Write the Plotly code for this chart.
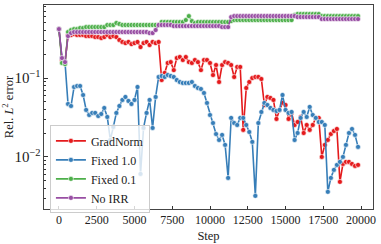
import plotly.graph_objects as go

steps = list(range(0, 20000, 200))

gradnorm = [0.417, 0.169, 0.159,
            0.350, 0.350, 0.361, 0.350, 0.350, 0.350, 0.340, 0.340, 0.340, 0.330, 0.330, 0.321, 0.330, 0.350, 0.330, 0.340,
            0.330, 0.303, 0.286, 0.277, 0.286, 0.269, 0.277, 0.286, 0.247, 0.277, 0.286, 0.262, 0.286, 0.277, 0.286,
            0.0943, 0.116, 0.155, 0.159, 0.126, 0.179, 0.1845, 0.169, 0.1845, 0.159, 0.155, 0.169, 0.159, 0.126,
            0.169, 0.169, 0.155, 0.109, 0.146, 0.089, 0.146, 0.159, 0.155, 0.146, 0.103, 0.138, 0.138,
            0.022, 0.0747, 0.089, 0.100, 0.103, 0.103, 0.0971, 0.0455, 0.0575, 0.0558, 0.0527, 0.0303, 0.0394,
            0.0483, 0.0455, 0.0303, 0.0361, 0.0254, 0.0277, 0.0321, 0.0201, 0.0254, 0.022, 0.0254, 0.0312, 0.0312,
            0.0100, 0.0142, 0.0164, 0.0195, 0.0213, 0.0226, 0.00483, 0.00815, 0.00865, 0.00865, 0.00815, 0.00769, 0.00792]

fixed_1 = [0.417, 0.179, 0.159,
           0.0469, 0.0442, 0.0769, 0.0792, 0.0792, 0.0609, 0.0394, 0.0340, 0.0361, 0.0361, 0.0330, 0.0350, 0.0417,
           0.0321, 0.0164, 0.0240, 0.0361, 0.0442, 0.0527, 0.0575, 0.0512, 0.0469, 0.0527, 0.0769, 0.00609, 0.0233,
           0.0361, 0.0527, 0.0233, 0.0575, 0.103,
           0.106, 0.103, 0.109, 0.106, 0.103, 0.0943, 0.089, 0.0865, 0.0865, 0.0865, 0.089, 0.0792, 0.0747, 0.0726,
           0.0646, 0.0483, 0.0340, 0.0269, 0.0195, 0.0164, 0.0190, 0.0142, 0.00542, 0.0312, 0.0269, 0.0254, 0.0312,
           0.0312, 0.0254, 0.0207, 0.0155, 0.00321, 0.0269, 0.0371, 0.0483, 0.0455, 0.0417, 0.0394, 0.0382, 0.0394,
           0.0609, 0.0394, 0.0361, 0.0371, 0.0164, 0.0201, 0.0312, 0.0371, 0.0321, 0.0430, 0.0340, 0.0312, 0.0277,
           0.0277, 0.0254, 0.00361, 0.00542, 0.00685, 0.00792, 0.00865, 0.0100, 0.0142, 0.0201, 0.0226, 0.0190, 0.0134]

fixed_01 = [0.417, 0.155, 0.150,
            0.382, 0.405, 0.417, 0.417, 0.430, 0.430, 0.442, 0.442, 0.442, 0.442, 0.442, 0.442, 0.442, 0.469, 0.469,
            0.469, 0.497, 0.483, 0.469, 0.469, 0.469, 0.469, 0.469, 0.469, 0.469, 0.469, 0.469, 0.469, 0.469, 0.469, 0.469,
            0.512, 0.512, 0.512, 0.512, 0.512, 0.512, 0.512, 0.512, 0.542, 0.609, 0.526, 0.497, 0.512, 0.512,
            0.512, 0.512, 0.512, 0.512, 0.512, 0.512, 0.512, 0.512, 0.512, 0.526, 0.542, 0.542, 0.542,
            0.542, 0.542, 0.542, 0.542, 0.542, 0.542, 0.542, 0.542, 0.542, 0.542, 0.542, 0.542, 0.542,
            0.542, 0.542, 0.542, 0.542, 0.627, 0.646, 0.646, 0.646, 0.646, 0.646, 0.646, 0.646, 0.646,
            0.609, 0.609, 0.609, 0.609, 0.609, 0.609, 0.609, 0.609, 0.609, 0.609, 0.609, 0.609, 0.609]

no_irr = [0.417, 0.179, 0.159,
          0.340, 0.371, 0.382, 0.382, 0.382, 0.382, 0.382, 0.382, 0.382, 0.382, 0.382, 0.382, 0.382, 0.382, 0.382,
          0.382, 0.382, 0.382, 0.382, 0.382, 0.382, 0.382, 0.382, 0.382, 0.382, 0.382, 0.382, 0.371, 0.371, 0.405, 0.469,
          0.469, 0.469, 0.469, 0.469, 0.455, 0.455, 0.455, 0.455, 0.455, 0.455, 0.455, 0.455, 0.455, 0.455,
          0.455, 0.455, 0.455, 0.455, 0.455, 0.455, 0.442, 0.442, 0.442, 0.592, 0.609, 0.609, 0.609,
          0.609, 0.609, 0.609, 0.609, 0.609, 0.609, 0.609, 0.609, 0.609, 0.609, 0.609, 0.609, 0.609,
          0.609, 0.609, 0.609, 0.609, 0.609, 0.592, 0.592, 0.592, 0.592, 0.592, 0.592, 0.592, 0.592,
          0.558, 0.558, 0.558, 0.558, 0.558, 0.558, 0.558, 0.558, 0.558, 0.558, 0.558, 0.558, 0.558]

series = [("GradNorm", gradnorm, "#e41a1c"),
          ("Fixed 1.0", fixed_1, "#377eb8"),
          ("Fixed 0.1", fixed_01, "#4daf4a"),
          ("No IRR", no_irr, "#984ea3")]

x_ticks = [0, 2500, 5000, 7500, 10000, 12500, 15000, 17500, 20000]

FONT = "Liberation Serif"

fig = go.Figure()
for name, vals, color in series:
    fig.add_trace(go.Scatter(
        x=steps, y=vals, name=name, mode="lines+markers",
        line=dict(color=color, width=1.6),
        marker=dict(size=5, color=color, line=dict(color="white", width=0.6)),
    ))

fig.update_layout(
    width=381, height=244,
    margin=dict(l=44, r=8, t=5, b=35),
    paper_bgcolor="white", plot_bgcolor="white",
    font=dict(family=FONT, size=12, color="#222"),
    showlegend=True,
    legend=dict(x=0.018, y=0.41, xanchor="left", yanchor="top",
                bgcolor="rgba(255,255,255,0.8)", bordercolor="#cccccc", borderwidth=1,
                font=dict(family=FONT, size=12, color="#222"),
                tracegroupgap=0, itemwidth=30),
)
fig.update_xaxes(
    range=[-990, 20790], tickvals=x_ticks, ticktext=[str(t) for t in x_ticks],
    ticks="inside", ticklen=3.5, tickcolor="#333", showgrid=False, zeroline=False,
    showline=True, linecolor="#444", linewidth=1, mirror=True,
    title=dict(text="Step", standoff=4, font=dict(size=12.5)), automargin=False,
    tickfont=dict(size=12),
)
fig.update_yaxes(
    type="log", range=[-2.66, -0.075], dtick=1, exponentformat="power",
    ticks="inside", ticklen=3.5, tickcolor="#333", showgrid=False, zeroline=False,
    showline=True, linecolor="#444", linewidth=1, mirror=True,
    minor=dict(ticks="inside", ticklen=2, tickcolor="#333", dtick="D1", showgrid=False),
    title=dict(text="Rel. <i>L</i><sup>2</sup> error", standoff=4, font=dict(size=12.5)),
    automargin=False, tickfont=dict(size=12),
)

fig.write_html("out.html", config={"displayModeBar": False},
               post_script="document.body.style.margin='0px';document.body.style.padding='0px';")
